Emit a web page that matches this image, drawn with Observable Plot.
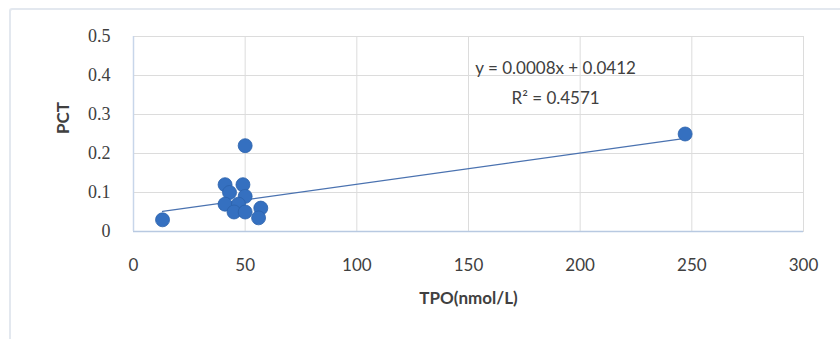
<!DOCTYPE html>
<html>
<head>
<meta charset="utf-8">
<script src="https://cdn.jsdelivr.net/npm/d3@7"></script>
<script src="https://cdn.jsdelivr.net/npm/@observablehq/plot@0.6"></script>
<style>
  html, body { margin: 0; padding: 0; background: #fff; }
  #wrap { position: relative; width: 840px; height: 339px; overflow: hidden; }
  #frame { position: absolute; left: 9px; top: 8px; width: 860px; height: 360px;
           border-left: 2px solid #e3e8ef; border-top: 2px solid #e3e8ef; border-radius: 3px; }
  #chart { position: absolute; left: 0; top: 0; }
</style>
</head>
<body>
<div id="wrap"><div id="frame"></div><div id="chart"></div></div>
<script>
// TPO (nmol/L) vs PCT
const tpo = [13, 50, 41, 49, 43, 50, 41, 47, 45, 57, 56, 50, 247];
const pct = [0.03, 0.22, 0.12, 0.12, 0.10, 0.09, 0.07, 0.07, 0.05, 0.06, 0.035, 0.05, 0.25];
const xTicks = [0, 50, 100, 150, 200, 250, 300];
const yTicks = [0, 0.1, 0.2, 0.3, 0.4, 0.5];
const slope = 0.0008;
const intercept = 0.0412;
const eqLines = ["y = 0.0008x + 0.0412", "R² = 0.4571"];
const eqPos = {x: 189, y: [0.418, 0.341]};

const points = tpo.map((x, i) => ({x, y: pct[i]}));
const xr = d3.extent(tpo);
const trend = xr.map(x => ({x, y: slope * x + intercept}));
const eq = eqLines.map((t, i) => ({t, x: eqPos.x, y: eqPos.y[i]}));

const chart = Plot.plot({
  width: 840,
  height: 339,
  marginLeft: 133,
  marginRight: 37,
  marginTop: 36,
  marginBottom: 108,
  style: {background: "transparent", color: "#404040"},
  x: {domain: [0, 300]},
  y: {domain: [0, 0.5]},
  marks: [
    Plot.gridX(xTicks, {stroke: "#dcdcdc", strokeOpacity: 1}),
    Plot.gridY(yTicks, {stroke: "#dcdcdc", strokeOpacity: 1}),
    Plot.frame({stroke: "#dcdcdc"}),
    Plot.ruleY([0], {stroke: "#b8c9e1", strokeWidth: 1.5}),
    Plot.ruleX([0], {stroke: "#c8d6ea", strokeWidth: 1.5}),
    Plot.axisX(xTicks, {tickSize: 0, tickPadding: 27, fontSize: 17, fontFamily: "Lato", fill: "#404040", label: null}),
    Plot.axisY(yTicks, {tickSize: 0, tickPadding: 23, fontSize: 18, fontFamily: "Liberation Serif", fill: "#404040", label: null, tickFormat: d => d === 0 ? "0" : d3.format(".1f")(d)}),
    Plot.line(trend, {x: "x", y: "y", stroke: "#4a72b0", strokeWidth: 1.3}),
    Plot.dot(points, {x: "x", y: "y", r: 7, fill: "#3570c0", stroke: "#2c62ab", strokeWidth: 0.8}),
    Plot.text(eq, {x: "x", y: "y", text: "t", fontSize: 17, fontFamily: "Lato", fill: "#404040"}),
    Plot.text(["TPO(nmol/L)"], {frameAnchor: "bottom", dy: 72, fontSize: 17, fontWeight: "bold", fontFamily: "Lato", fill: "#404040"}),
    Plot.text(["PCT"], {frameAnchor: "left", dx: -70, rotate: -90, fontSize: 17, fontWeight: "bold", fontFamily: "Lato", fill: "#404040"})
  ]
});
document.getElementById("chart").appendChild(chart);
</script>
</body>
</html>
